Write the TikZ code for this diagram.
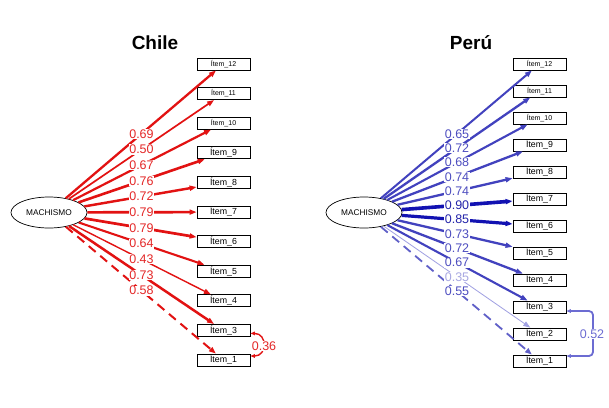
\documentclass[tikz,border=0pt]{standalone}
\usepackage{fontspec}
\setmainfont{Liberation Sans}
\usetikzlibrary{arrows.meta,calc,shapes.geometric}
\definecolor{cred}{RGB}{226,18,18}
\definecolor{credl}{RGB}{228,40,40}
\definecolor{pdark}{RGB}{18,18,178}
\definecolor{pmid}{RGB}{66,66,190}
\definecolor{pdash}{RGB}{96,96,200}
\definecolor{plight}{RGB}{160,160,226}
\definecolor{pcov}{RGB}{108,108,210}
\definecolor{pldark}{RGB}{36,36,170}
\definecolor{plmid}{RGB}{78,78,192}
\definecolor{pllight}{RGB}{168,168,226}
\tikzset{
  lat/.style={ellipse,draw,line width=0.7pt,minimum width=76pt,minimum height=31pt,inner sep=0pt,font=\fontsize{8.3}{8.3}\selectfont},
  obs/.style={rectangle,draw,line width=0.8pt,minimum width=53pt,minimum height=12pt,inner sep=0pt},
  big/.style={font=\fontsize{8.8}{8.8}\selectfont},
  small/.style={font=\fontsize{7}{7}\selectfont},
  lab/.style={fill=white,inner sep=0.6pt,font=\fontsize{12.5}{12.5}\selectfont},
  ttl/.style={font=\bfseries\fontsize{19}{19}\selectfont},
  tip/.style={-{Triangle[length=7pt,width=5pt]}},
  covtip/.style={{Triangle[length=4.5pt,width=3.5pt]}-{Triangle[length=4.5pt,width=3.5pt]}}
}
\begin{document}
\begin{tikzpicture}[x=1pt,y=-1pt]
\useasboundingbox (0,0) rectangle (609,407);
\fill[white] (0,0) rectangle (609,407);
% ---------------- Chile
\node[ttl] (tc) at (155,43) {Chile};
\node[lat] (cm) at (49,212.5) {MACHISMO};
\foreach \n/\y/\s in {12/64/small,11/93.6/small,10/123.2/small,9/152.8/big,8/182.4/big,7/212/big,6/241.6/big,5/271.2/big,4/300.8/big,3/330.4/big,1/360/big}
  \node[obs,\s] (c\n) at (223.5,\y) {Ítem\_\n};
\foreach \n/\w in {12/2.3,11/1.7,10/2.2,9/2.6,8/2.45,7/2.7,6/2.7,5/2.1,4/1.4,3/2.5}
  \draw[cred,line width=\w pt,tip] (cm) -- (c\n);
\draw[cred,line width=2pt,tip,dash pattern=on 9pt off 6pt] (cm) -- (c1);
\foreach \n/\v in {12/0.69,11/0.50,10/0.67,9/0.76,8/0.72,7/0.79,6/0.79,5/0.64,4/0.43,3/0.73,1/0.58}
  \node[lab,text=credl] (lc\n) at ($(cm)!0.53!(c\n)$) {\v};
\draw[cred,line width=1.4pt,covtip] ($(c3.east)+(0,3)$) .. controls +(17,0) and +(17,0) .. ($(c1.east)+(0,-4)$);
\node[lab,text=credl] (lc31) at (264,346) {0.36};
% ---------------- Peru
\node[ttl] (tp) at (471,43) {Perú};
\node[lat] (pm) at (364,212.5) {MACHISMO};
\foreach \n/\y/\s in {12/64/small,11/91/small,10/118/small,9/145/big,8/172/big,7/199/big,6/226/big,5/253/big,4/280/big,3/307/big,2/334/big,1/361/big}
  \node[obs,\s] (p\n) at (539.5,\y) {Ítem\_\n};
\foreach \n/\w/\c in {12/2/pmid,11/2.3/pmid,10/2.1/pmid,9/2.3/pmid,8/2.3/pmid,7/3.6/pdark,6/3.2/pdark,5/2.3/pmid,4/2.3/pmid,3/2.1/pmid,2/0.8/plight}
  \draw[\c,line width=\w pt,tip] (pm) -- (p\n);
\draw[pdash,line width=1.8pt,tip,dash pattern=on 9pt off 6pt] (pm) -- (p1);
\foreach \n/\v/\c in {12/0.65/plmid,11/0.72/plmid,10/0.68/plmid,9/0.74/plmid,8/0.74/plmid,7/0.90/pldark,6/0.85/pldark,5/0.73/plmid,4/0.72/plmid,3/0.67/plmid,2/0.35/pllight,1/0.55/plmid}
  \node[lab,text=\c] (lp\n) at ($(pm)!0.53!(p\n)$) {\v};
\draw[pcov,line width=1.8pt,covtip,rounded corners=4pt] ($(p3.east)+(0,4)$) -| (593,334) |- ($(p1.east)+(0,-5)$);
\node[lab,text=pcov] (lp31) at (592,334) {0.52};
\end{tikzpicture}
\end{document}
